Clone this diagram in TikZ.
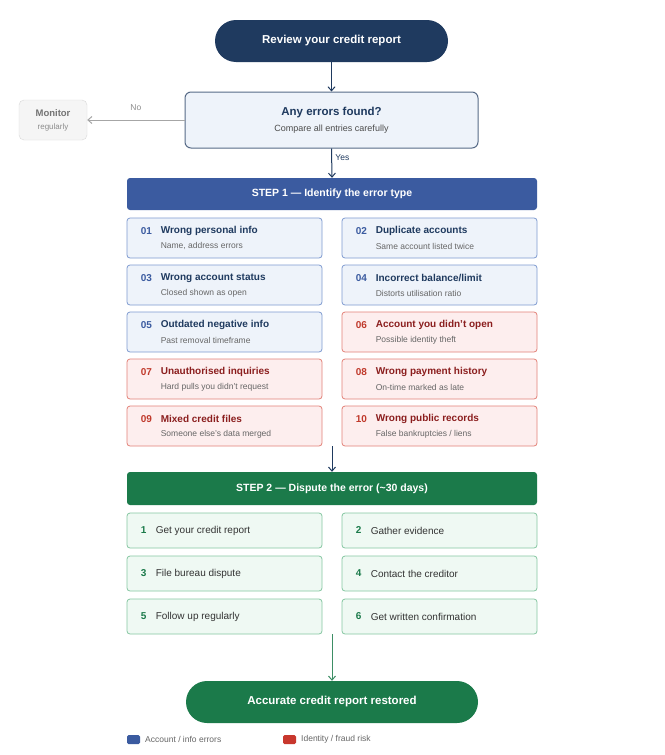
\documentclass[tikz,border=0pt]{standalone}
\usepackage{fontspec}
\setmainfont{Liberation Sans}
\usetikzlibrary{arrows.meta}
\definecolor{navy}{HTML}{1F3A5F}
\definecolor{bluebar}{HTML}{3B5BA0}
\definecolor{bluefill}{HTML}{EEF3FA}
\definecolor{blueline}{HTML}{7F9BD0}
\definecolor{redfill}{HTML}{FDEEEE}
\definecolor{redline}{HTML}{E38279}
\definecolor{rednum}{HTML}{C0392B}
\definecolor{redtitle}{HTML}{8B1E1E}
\definecolor{greenbar}{HTML}{1B7A4A}
\definecolor{greenfill}{HTML}{EFF9F3}
\definecolor{greenline}{HTML}{86C7A2}
\definecolor{subgray}{HTML}{666666}
\definecolor{legred}{HTML}{C8372D}
\tikzset{
  x=1pt,y=-1pt,
  card/.style={draw, rounded corners=3pt, line width=0.8pt, minimum width=195pt, minimum height=40pt},
  bcard/.style={card, fill=bluefill, draw=blueline},
  rcard/.style={card, fill=redfill, draw=redline},
  gcard/.style={card, fill=greenfill, draw=greenline, minimum height=35pt},
  bar/.style={rounded corners=3pt, minimum width=410pt, text=white, font=\bfseries\fontsize{10.5}{12}\selectfont},
  pill/.style={rounded corners=21pt, text=white, font=\bfseries\fontsize{11.5}{13}\selectfont},
  arr/.style={-{Straight Barb[length=4pt,width=7pt]}, line width=1pt, draw=navy},
}
\newcommand{\ecard}[8]{% name, style, x, y, num, title, sub, numcolor/titlecolor
  \node[#2] (#1) at (#3,#4) {};
  \node[anchor=west, text=#8!0!#5, font=\bfseries\fontsize{10}{12}\selectfont, inner sep=0] at ([xshift=13pt,yshift=-6pt]#1.west) {};
}
\newcommand{\mkcard}[9]{%
  \node[#2] (#1) at (#3,#4) {};
  \node[anchor=west, text=#8, font=\bfseries\fontsize{10}{12}\selectfont, inner sep=0] (#1n) at ([xshift=14pt,yshift=7pt]#1.west) {#5};
  \node[anchor=west, text=#9, font=\bfseries\fontsize{10}{12}\selectfont, inner sep=0] (#1t) at ([xshift=34pt,yshift=7pt]#1.west) {#6};
  \node[anchor=west, text=subgray, font=\fontsize{8.5}{10}\selectfont, inner sep=0] (#1s) at ([xshift=34pt,yshift=-8pt]#1.west) {#7};
}
\newcommand{\gstep}[5]{%
  \node[gcard] (#1) at (#2,#3) {};
  \node[anchor=west, text=greenbar, font=\bfseries\fontsize{10}{12}\selectfont, inner sep=0] (#1n) at ([xshift=14pt]#1.west) {#4};
  \node[anchor=west, text=black!80, font=\fontsize{10}{12}\selectfont, inner sep=0] (#1t) at ([xshift=29pt]#1.west) {#5};
}
\begin{document}
\begin{tikzpicture}
\useasboundingbox (0,0) rectangle (664,755);
\fill[white] (0,0) rectangle (664,755);
\node[pill, fill=navy, minimum width=233pt, minimum height=42pt] (start) at (331.5,41) {Review your credit report};
\node[draw=navy!75, fill=bluefill, line width=1pt, rounded corners=6pt, minimum width=293pt, minimum height=56pt, align=center] (dec) at (331.5,120)
  {{\bfseries\fontsize{11.5}{13}\selectfont\color{navy}Any errors found?}\\[4pt]{\fontsize{9}{11}\selectfont\color{black!70}Compare all entries carefully}};
\node[draw=black!15, fill=black!4, rounded corners=5pt, minimum width=68pt, minimum height=40pt, align=center] (mon) at (53,120)
  {{\bfseries\fontsize{9.5}{11}\selectfont\color{black!55}Monitor}\\[1pt]{\fontsize{8}{10}\selectfont\color{black!45}regularly}};
\draw[arr] (start) -- (dec);
\draw[-{Straight Barb[length=4pt,width=7pt]}, draw=black!35, line width=1pt] (dec.west) -- (mon.east) node[midway, above=6pt, text=black!45, font=\fontsize{8.5}{10}\selectfont] {No};
\node[bar, fill=bluebar, minimum height=32pt] (s1) at (332,194) {STEP 1 — Identify the error type};
\draw[arr] (dec.south) -- (s1.north) node[pos=0.3, right=0pt, text=navy, font=\fontsize{8.5}{10}\selectfont] {Yes};
\mkcard{c1}{bcard}{224.5}{238}{01}{Wrong personal info}{Name, address errors}{bluebar}{navy}
\mkcard{c2}{bcard}{439.5}{238}{02}{Duplicate accounts}{Same account listed twice}{bluebar}{navy}
\mkcard{c3}{bcard}{224.5}{285}{03}{Wrong account status}{Closed shown as open}{bluebar}{navy}
\mkcard{c4}{bcard}{439.5}{285}{04}{Incorrect balance/limit}{Distorts utilisation ratio}{bluebar}{navy}
\mkcard{c5}{bcard}{224.5}{332}{05}{Outdated negative info}{Past removal timeframe}{bluebar}{navy}
\mkcard{c6}{rcard}{439.5}{332}{06}{Account you didn't open}{Possible identity theft}{rednum}{redtitle}
\mkcard{c7}{rcard}{224.5}{379}{07}{Unauthorised inquiries}{Hard pulls you didn't request}{rednum}{redtitle}
\mkcard{c8}{rcard}{439.5}{379}{08}{Wrong payment history}{On-time marked as late}{rednum}{redtitle}
\mkcard{c9}{rcard}{224.5}{426}{09}{Mixed credit files}{Someone else's data merged}{rednum}{redtitle}
\mkcard{c10}{rcard}{439.5}{426}{10}{Wrong public records}{False bankruptcies / liens}{rednum}{redtitle}
\node[bar, fill=greenbar, minimum height=33pt] (s2) at (332,488.5) {STEP 2 — Dispute the error (\textasciitilde30 days)};
\coordinate (gapA) at (332,446);
\draw[arr] (gapA) -- (s2.north);
\gstep{g1}{224.5}{530.5}{1}{Get your credit report}
\gstep{g2}{439.5}{530.5}{2}{Gather evidence}
\gstep{g3}{224.5}{573.5}{3}{File bureau dispute}
\gstep{g4}{439.5}{573.5}{4}{Contact the creditor}
\gstep{g5}{224.5}{616.5}{5}{Follow up regularly}
\gstep{g6}{439.5}{616.5}{6}{Get written confirmation}
\node[pill, fill=greenbar, minimum width=292pt, minimum height=42pt] (end) at (332,702) {Accurate credit report restored};
\coordinate (gapB) at (332,634);
\draw[arr, draw=greenbar!85] (gapB) -- (end.north);
\node[fill=bluebar, rounded corners=1.5pt, minimum width=13pt, minimum height=9pt, inner sep=0] (lb) at (133.5,739.5) {};
\node[anchor=west, text=black!60, font=\fontsize{8.5}{10}\selectfont, inner sep=0] (lbt) at (145,739.5) {Account / info errors};
\node[fill=legred, rounded corners=1.5pt, minimum width=13pt, minimum height=9pt, inner sep=0] (lr) at (289.5,739.5) {};
\node[anchor=west, text=black!60, font=\fontsize{8.5}{10}\selectfont, inner sep=0] (lrt) at (301,739.5) {Identity / fraud risk};
\end{tikzpicture}
\end{document}
